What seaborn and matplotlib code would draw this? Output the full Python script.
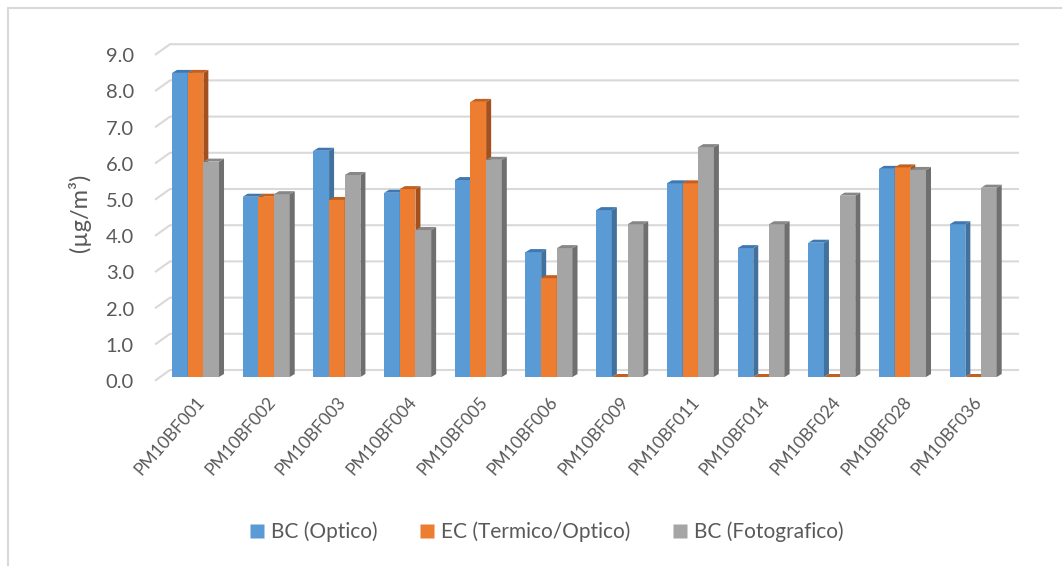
import numpy as np
import pandas as pd
import matplotlib.pyplot as plt
import matplotlib.transforms as mtransforms
from matplotlib.patches import Polygon
from matplotlib.lines import Line2D
import seaborn as sns

samples = ["PM10BF001", "PM10BF002", "PM10BF003", "PM10BF004", "PM10BF005", "PM10BF006",
           "PM10BF009", "PM10BF011", "PM10BF014", "PM10BF024", "PM10BF028", "PM10BF036"]
bc_optico = [8.40, 4.98, 6.25, 5.09, 5.44, 3.45, 4.61, 5.35, 3.56, 3.71, 5.75, 4.22]
ec_termico = [8.40, 4.98, 4.89, 5.19, 7.60, 2.73, 0.0, 5.35, 0.0, 0.0, 5.79, 0.0]
bc_foto = [5.95, 5.05, 5.58, 4.06, 6.00, 3.56, 4.22, 6.35, 4.22, 5.01, 5.72, 5.23]
series = ["BC (Optico)", "EC (Termico/Optico)", "BC (Fotografico)"]
y_ticks = [0, 1, 2, 3, 4, 5, 6, 7, 8, 9]

df = pd.DataFrame({
    "sample": samples * 3,
    "serie": np.repeat(series, len(samples)),
    "value": bc_optico + ec_termico + bc_foto,
})

front = {"BC (Optico)": "#5b9bd5", "EC (Termico/Optico)": "#ed7d31", "BC (Fotografico)": "#a5a5a5"}
side = ["#41719c", "#a3501c", "#6f6f6f"]
top = ["#3f78b0", "#c4601f", "#878787"]
text_color = "#595959"
grid_color = "#d9d9d9"

sns.set_style("white")
plt.rcParams["font.family"] = ["Lato", "DejaVu Sans"]

W, H = 1062, 566
fig = plt.figure(figsize=(W / 100, H / 100), dpi=100)
ax = fig.add_axes([170 / W, (H - 377) / H, 849 / W, 325.8 / H])

sns.barplot(data=df, x="sample", y="value", hue="serie", hue_order=series,
            palette=front, width=0.665, gap=0, saturation=1, errorbar=None,
            legend=False, ax=ax)

xl, xr = -0.361, 11.648
ax.set_xlim(xl, xr)
ax.set_ylim(0, 9)
sx = 849 / (xr - xl)
sy = 325.8 / 9

# fake 3D: side and top faces
dx, dy = 5 / sx, 3 / sy
bars = sorted([p for p in ax.patches], key=lambda p: p.get_x())
for i, p in enumerate(bars):
    k = i % 3
    x0, w, h = p.get_x(), p.get_width(), p.get_height()
    z = 2 + i * 0.01
    p.set_zorder(z)
    p.set_linewidth(0)
    p.set_edgecolor("none")
    ax.add_patch(Polygon([(x0 + w, 0), (x0 + w + dx, dy), (x0 + w + dx, h + dy), (x0 + w, h)],
                         closed=True, facecolor=side[k], edgecolor="none", zorder=z, clip_on=False))
    ax.add_patch(Polygon([(x0, h), (x0 + w, h), (x0 + w + dx, h + dy), (x0 + dx, h + dy)],
                         closed=True, facecolor=top[k], edgecolor="none", zorder=z, clip_on=False))

# back wall gridlines with side wall diagonals
front_dy, back_dy = -3.7 / sy, 7 / sy
x_diag = xl - 15 / sx
for v in y_ticks:
    ax.plot([x_diag, xl, xr], [v + front_dy, v + back_dy, v + back_dy],
            color=grid_color, lw=1.5, zorder=1, clip_on=False, solid_capstyle="butt")

for s in ax.spines.values():
    s.set_visible(False)
ax.set_xlabel("")
ax.set_ylabel("")
ax.grid(False)

ax.set_yticks(y_ticks)
ax.set_yticklabels([f"{v:.1f}" for v in y_ticks])
ax.tick_params(axis="y", length=0, pad=26, labelsize=14.5, labelcolor=text_color)
ax.set_xticks(range(len(samples)))
ax.set_xticklabels(samples, rotation=49, ha="right", rotation_mode="anchor")
ax.tick_params(axis="x", length=0, pad=12, labelsize=12.5, labelcolor=text_color)

shift = mtransforms.ScaledTranslation(0, -0.04, fig.dpi_scale_trans)
for lab in ax.get_yticklabels():
    lab.set_transform(lab.get_transform() + shift)

fig.text(80 / W, 1 - 213 / H, "(µg/m³)", rotation=90, ha="center", va="center",
         fontsize=17, color=text_color)

handles = [Line2D([], [], marker="s", linestyle="none", markersize=10.5,
                  markerfacecolor=front[s], markeredgecolor="none") for s in series]
fig.legend(handles, series, loc="center", bbox_to_anchor=(545 / W, 34 / H), ncol=3,
           frameon=False, fontsize=15, handletextpad=0.15, columnspacing=1.9,
           handlelength=1, labelcolor=text_color)

# chart frame (top and left edges visible)
fig.add_artist(Line2D([8 / W, 1], [1 - 8 / H, 1 - 8 / H], color=grid_color, lw=1.5,
                      transform=fig.transFigure))
fig.add_artist(Line2D([8 / W, 8 / W], [0, 1 - 8 / H], color=grid_color, lw=1.5,
                      transform=fig.transFigure))

fig.savefig("out.png", dpi=100)
print("saved out.png")
